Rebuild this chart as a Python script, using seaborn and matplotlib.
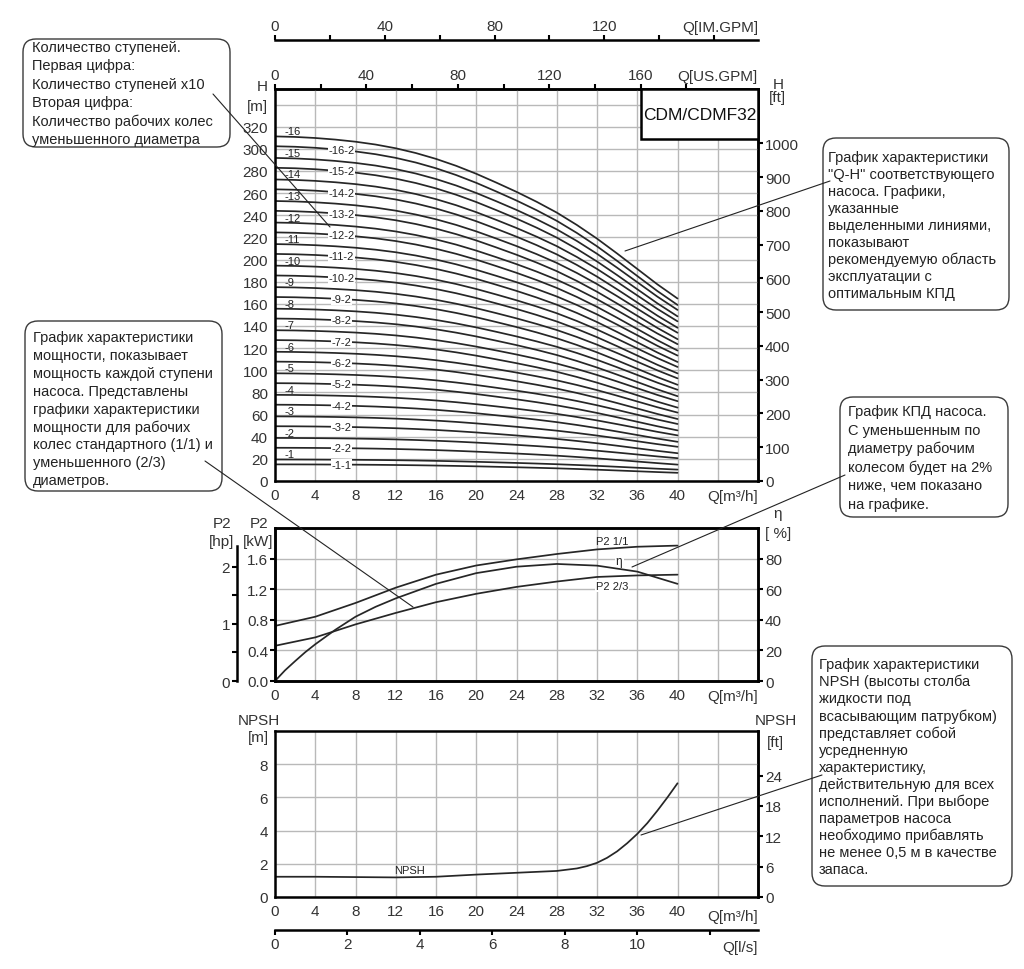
import numpy as np
import pandas as pd
import matplotlib
matplotlib.use("Agg")
import matplotlib.pyplot as plt
import seaborn as sns
from matplotlib.patches import FancyBboxPatch, Rectangle
from matplotlib.lines import Line2D
from matplotlib.transforms import IdentityTransform

# =========================================================
# DATA
# =========================================================

# flow points, m3/h
q_pts = [0, 2, 4, 6, 8, 10, 12, 14, 16, 18, 20, 22, 24, 26, 28, 30, 32, 34, 36, 38, 40]

# head of one stage [m]: standard impeller and reduced-diameter impeller
head_stage_full = [19.45, 19.42, 19.36, 19.27, 19.15, 18.99, 18.78, 18.51, 18.18, 17.79,
                   17.34, 16.84, 16.32, 15.76, 15.15, 14.45, 13.68, 12.84, 11.97, 11.10, 10.30]
head_stage_reduced = [15.0, 14.98, 14.93, 14.85, 14.75, 14.62, 14.44, 14.22, 13.95, 13.62,
                      13.25, 12.83, 12.40, 11.94, 11.43, 10.85, 10.21, 9.51, 8.79, 8.07, 7.4]

stages = list(range(1, 17))

# power P2 [kW] for impeller 1/1 and 2/3
q_p2 = [0, 4, 8, 12, 16, 20, 24, 28, 32, 36, 40]
p2_full_kw = [0.72, 0.84, 1.02, 1.22, 1.39, 1.51, 1.59, 1.66, 1.72, 1.755, 1.77]
p2_reduced_kw = [0.46, 0.57, 0.74, 0.89, 1.03, 1.14, 1.23, 1.30, 1.36, 1.38, 1.39]

# efficiency [%]
q_eta = [0, 1, 2, 3, 4, 6, 8, 10, 12, 16, 20, 24, 28, 32, 36, 40]
eta_pct = [0, 7, 13, 18.8, 24, 33.5, 42, 48.5, 54, 63.5, 70.5, 74.7, 76.5, 75.4, 71.5, 63.5]

# NPSH [m]
q_npsh = [0, 4, 8, 12, 16, 20, 24, 28, 30, 31, 32, 33, 34, 35, 36, 37, 38, 39, 40]
npsh_m = [1.22, 1.22, 1.2, 1.18, 1.22, 1.35, 1.46, 1.57, 1.72, 1.86, 2.06, 2.36, 2.75,
          3.24, 3.8, 4.45, 5.2, 6.0, 6.85]

# unit conversions for the extra scales
M3H_PER_IMGPM = 0.272765
M3H_PER_USGPM = 0.227125
M_PER_FT = 0.3048
KW_PER_HP = 0.7457

note_stages = ["Количество ступеней.", "Первая цифра:", "Количество ступеней x10",
               "Вторая цифра:", "Количество рабочих колес", "уменьшенного диаметра"]
note_qh = ["График характеристики", "\"Q-H\" соответствующего", "насоса. Графики,",
           "указанные", "выделенными линиями,", "показывают",
           "рекомендуемую область", "эксплуатации с", "оптимальным КПД"]
note_power = ["График характеристики", "мощности, показывает", "мощность каждой ступени",
              "насоса. Представлены", "графики характеристики", "мощности для рабочих",
              "колес стандартного (1/1) и", "уменьшенного (2/3)", "диаметров."]
note_eta = ["График КПД насоса.", "С уменьшенным по", "диаметру рабочим",
            "колесом будет на 2%", "ниже, чем показано", "на графике."]
note_npsh = ["График характеристики", "NPSH (высоты столба", "жидкости под",
             "всасывающим патрубком)", "представляет собой", "усредненную",
             "характеристику,", "действительную для всех", "исполнений. При выборе",
             "параметров насоса", "необходимо прибавлять", "не менее 0,5 м в качестве",
             "запаса."]

# =========================================================
# QH CURVES TABLE
# =========================================================

full = np.array(head_stage_full)
red = np.array(head_stage_reduced)
rows = []
curve_labels = []
for n in stages:
    h_full = n * full
    if n == 1:
        h_red, lab_red = red, "-1-1"
    else:
        h_red, lab_red = (n - 2) * full + 2 * red, f"-{n}-2"
    curve_labels.append((f"-{n}", h_full, lab_red, h_red))
    for q, h in zip(q_pts, h_full):
        rows.append({"Q": q, "H": h, "curve": f"-{n}"})
    for q, h in zip(q_pts, h_red):
        rows.append({"Q": q, "H": h, "curve": lab_red})
df_qh = pd.DataFrame(rows)

# =========================================================
# FIGURE
# =========================================================

sns.set_theme(style="white")
plt.rcParams["font.family"] = ["Liberation Sans", "DejaVu Sans"]

W, HT = 1024, 970
LINE = "#262626"
GRID = "#b9b9b9"
TXT = "#333333"

fig = plt.figure(figsize=(W / 100, HT / 100), dpi=100)


def add_ax(l, t, r, b):
    return fig.add_axes([l / W, 1 - b / HT, (r - l) / W, (b - t) / HT])


def style_ticks(a, which="both"):
    a.tick_params(axis=which, direction="out", length=3.5, width=1.5, color="black",
                  labelsize=11, labelcolor=TXT, pad=1.5)


def style_spines(a):
    for sp in a.spines.values():
        sp.set_linewidth(1.8)
        sp.set_color("black")


def ftext(x, y, s, **kw):
    kw.setdefault("fontsize", 11)
    kw.setdefault("color", TXT)
    kw.setdefault("ha", "center")
    kw.setdefault("va", "center")
    fig.text(x / W, 1 - y / HT, s, **kw)


def note(box, lines, x_text, y_first, step):
    l, t, r, b = box
    patch = FancyBboxPatch((l, HT - b), r - l, b - t,
                           boxstyle="round,pad=0,rounding_size=13",
                           transform=IdentityTransform(),
                           fc="white", ec="#3a3a3a", lw=1.0)
    fig.add_artist(patch)
    for i, s in enumerate(lines):
        ftext(x_text, y_first + i * step, s, ha="left", fontsize=10.5, color="#222222")


def leader(x1, y1, x2, y2):
    fig.add_artist(Line2D([x1 / W, x2 / W], [1 - y1 / HT, 1 - y2 / HT],
                          transform=fig.transFigure, color="#222222", lw=0.8))


# ---------------------------------------------------------
# Q-H panel
# ---------------------------------------------------------
ax_h = add_ax(275, 90, 758, 482)
sns.lineplot(data=df_qh, x="Q", y="H", units="curve", estimator=None,
             color=LINE, lw=1.25, legend=False, ax=ax_h)
ax_h.set_xlim(0, 48)
ax_h.set_ylim(0, 354)
ax_h.set_xlabel("")
ax_h.set_ylabel("")
ax_h.set_xticks(range(0, 48, 4))
ax_h.set_xticklabels([str(v) if v <= 40 else "" for v in range(0, 48, 4)])
ax_h.set_yticks(range(0, 341, 20))
ax_h.set_yticklabels([str(v) if v <= 320 else "[m]" for v in range(0, 341, 20)])
ax_h.grid(True, color=GRID, lw=1.0)
ax_h.set_axisbelow(True)
style_spines(ax_h)
style_ticks(ax_h)

for lab_full, h_full, lab_red, h_red in curve_labels:
    ax_h.text(0.9, h_full[0] + 4.5, lab_full, fontsize=8, color="#222222",
              ha="left", va="center")
    ax_h.text(6.6, np.interp(6.6, q_pts, h_red), lab_red, fontsize=8, color="#222222",
              ha="center", va="center",
              bbox=dict(fc="white", ec="none", pad=0.6))

# model box
q_box = 160 * M3H_PER_USGPM
ax_h.add_patch(Rectangle((q_box, 308.8), 48 - q_box, 354 - 308.8, fc="white",
                         ec="black", lw=1.8, zorder=3, clip_on=False))
ax_h.text((q_box + 48) / 2, (308.8 + 354) / 2, "CDM/CDMF32", fontsize=12.5,
          color="#111111", ha="center", va="center", zorder=4)

sec_ft = ax_h.secondary_yaxis("right", functions=(lambda m: np.asarray(m) / M_PER_FT,
                                                  lambda f: np.asarray(f) * M_PER_FT))
sec_ft.set_yticks(range(0, 1001, 100))
style_spines(sec_ft)
style_ticks(sec_ft)

sec_us = ax_h.secondary_xaxis("top", functions=(lambda q: np.asarray(q) / M3H_PER_USGPM,
                                                lambda g: np.asarray(g) * M3H_PER_USGPM))
sec_us.set_xticks(range(0, 181, 20))
sec_us.set_xticklabels([str(v) if v % 40 == 0 else "" for v in range(0, 181, 20)])
style_spines(sec_us)
style_ticks(sec_us)

sec_im = ax_h.secondary_xaxis(1 + 49 / 392, functions=(lambda q: np.asarray(q) / M3H_PER_IMGPM,
                                                       lambda g: np.asarray(g) * M3H_PER_IMGPM))
sec_im.set_xticks(range(0, 161, 20))
sec_im.set_xticklabels([str(v) if v % 40 == 0 and v < 160 else "" for v in range(0, 161, 20)])
style_spines(sec_im)
style_ticks(sec_im)

ftext(758, 28, "Q[IM.GPM]", ha="right")
ftext(758, 77, "Q[US.GPM]", ha="right")
ftext(758, 497, "Q[m³/h]", ha="right")
ftext(262, 87, "H")
ftext(778, 85, "H")
ftext(777, 98, "[ft]")

# ---------------------------------------------------------
# Power / efficiency panel
# ---------------------------------------------------------
ax_p = add_ax(275, 529, 758, 682)
sns.lineplot(x=q_p2, y=p2_full_kw, color=LINE, lw=1.25, ax=ax_p)
sns.lineplot(x=q_p2, y=p2_reduced_kw, color=LINE, lw=1.25, ax=ax_p)
ax_p.set_xlim(0, 48)
ax_p.set_ylim(0, 2.0)
ax_p.set_xticks(range(0, 48, 4))
ax_p.set_xticklabels([str(v) if v <= 40 else "" for v in range(0, 48, 4)])
ax_p.set_yticks([0, 0.4, 0.8, 1.2, 1.6])
ax_p.set_yticklabels(["0.0", "0.4", "0.8", "1.2", "1.6"])
ax_p.grid(True, color=GRID, lw=1.0)
ax_p.set_axisbelow(True)
style_spines(ax_p)
style_ticks(ax_p)

ax_eta = ax_p.twinx()
sns.lineplot(x=q_eta, y=eta_pct, color=LINE, lw=1.25, ax=ax_eta)
ax_eta.set_ylim(0, 100)
ax_eta.set_yticks(range(0, 81, 20))
ax_eta.grid(False)
style_spines(ax_eta)
style_ticks(ax_eta)

ax_p.text(33.5, 1.83, "P2 1/1", fontsize=8, color="#222222", ha="center", va="center")
ax_p.text(34.2, 1.57, "η", fontsize=8.5, color="#222222", ha="center", va="center",
          bbox=dict(fc="white", ec="none", pad=0.8), zorder=5)
ax_p.text(33.5, 1.245, "P2 2/3", fontsize=8, color="#222222", ha="center", va="center",
          bbox=dict(fc="white", ec="none", pad=0.8), zorder=5)

sec_hp = ax_p.secondary_yaxis(-38 / 483, functions=(lambda kw: np.asarray(kw) / KW_PER_HP,
                                                    lambda hp: np.asarray(hp) * KW_PER_HP))
sec_hp.set_yticks([0, 1, 2])
sec_hp.set_yticks([0.5, 1.5], minor=True)
style_spines(sec_hp)
style_ticks(sec_hp)
sec_hp.tick_params(which="minor", length=3.5, width=1.5, color="black")
sec_hp.spines["left"].set_bounds(0, 2.37)

ftext(758, 697, "Q[m³/h]", ha="right")
ftext(259, 524, "P2")
ftext(258, 542, "[kW]")
ftext(222, 524, "P2")
ftext(222, 542, "[hp]")
ftext(778, 514, "η")
ftext(778, 534, "[ %]")

# ---------------------------------------------------------
# NPSH panel
# ---------------------------------------------------------
ax_n = add_ax(275, 732, 758, 898)
sns.lineplot(x=q_npsh, y=npsh_m, color=LINE, lw=1.25, ax=ax_n)
ax_n.set_xlim(0, 48)
ax_n.set_ylim(0, 10)
ax_n.set_xticks(range(0, 48, 4))
ax_n.set_xticklabels([str(v) if v <= 40 else "" for v in range(0, 48, 4)])
ax_n.set_yticks(range(0, 9, 2))
ax_n.grid(True, color=GRID, lw=1.0)
ax_n.set_axisbelow(True)
style_spines(ax_n)
style_ticks(ax_n)
ax_n.text(13.4, 1.6, "NPSH", fontsize=8, color="#222222", ha="center", va="center")

sec_nft = ax_n.secondary_yaxis("right", functions=(lambda m: np.asarray(m) / M_PER_FT,
                                                   lambda f: np.asarray(f) * M_PER_FT))
sec_nft.set_yticks(range(0, 25, 6))
style_spines(sec_nft)
style_ticks(sec_nft)

sec_ls = ax_n.secondary_xaxis(-33 / 166, functions=(lambda q: np.asarray(q) / 3.6,
                                                    lambda l: np.asarray(l) * 3.6))
sec_ls.set_xticks(range(0, 13, 2))
sec_ls.set_xticklabels([str(v) if v <= 10 else "" for v in range(0, 13, 2)])
style_spines(sec_ls)
style_ticks(sec_ls)

ftext(758, 917, "Q[m³/h]", ha="right")
ftext(758, 948, "Q[l/s]", ha="right")
ftext(259, 721, "NPSH")
ftext(258, 738, "[m]")
ftext(776, 721, "NPSH")
ftext(775, 743, "[ft]")

# ---------------------------------------------------------
# Notes and leader lines
# ---------------------------------------------------------
note((23, 40, 230, 148), note_stages, 32, 48, 18.4)
note((823, 139, 1009, 311), note_qh, 828, 158, 17.0)
note((25, 322, 222, 492), note_power, 33, 338, 17.9)
note((840, 398, 1008, 518), note_eta, 848, 412, 18.6)
note((812, 647, 1012, 887), note_npsh, 819, 665, 17.1)

leader(213, 95, 330, 228)
leader(830, 182, 625, 252)
leader(205, 462, 413, 608)
leader(845, 476, 632, 568)
leader(822, 776, 641, 836)

fig.savefig("out.png", dpi=100, facecolor="white")
